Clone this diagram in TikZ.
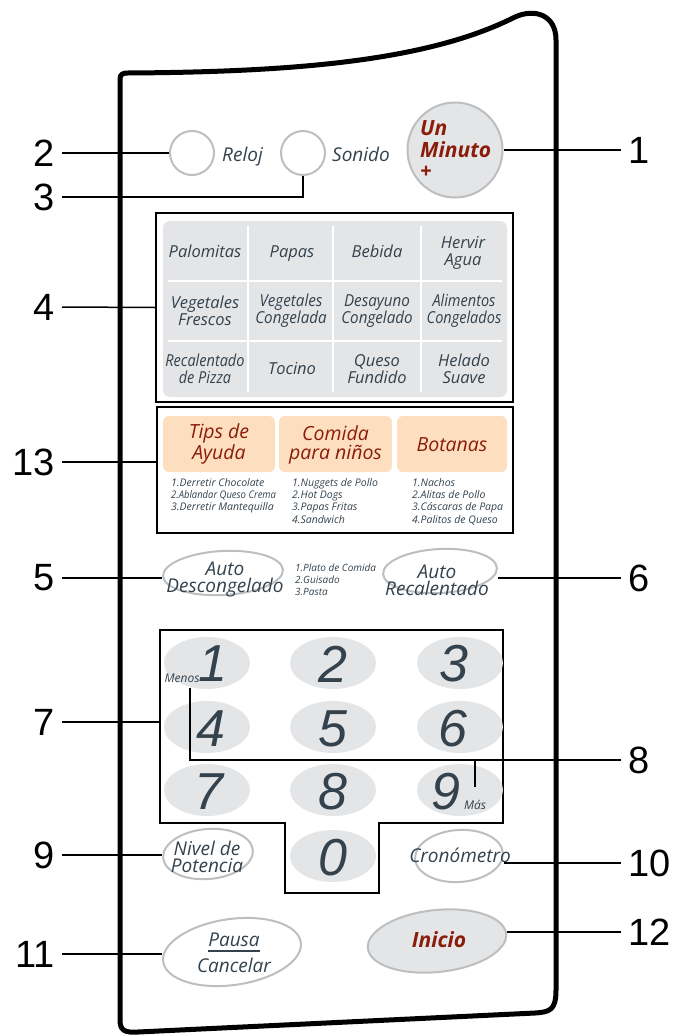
\documentclass[tikz,border=0pt]{standalone}
\usepackage{fontspec}
\setmainfont{Open Sans}
\newfontfamily\digitfont{Liberation Sans}
\usepackage{tikz}
\usetikzlibrary{shapes.geometric}
\definecolor{ink}{HTML}{33424D}
\definecolor{keygray}{HTML}{E4E5E7}
\definecolor{rimgray}{HTML}{BDBEC0}
\definecolor{darkred}{HTML}{8A1C0A}
\definecolor{peach}{HTML}{FDDEBF}
\tikzset{callout/.style = {font=\digitfont\fontsize{38}{38}\selectfont,
                           inner sep=0pt, outer xsep=7pt}}
\tikzset{leader/.style = {line width=1.5pt}}
\tikzset{frame/.style = {draw, line width=1.6pt, inner sep=0pt}}
\tikzset{rim/.style = {draw=rimgray, line width=2pt, inner sep=0pt}}
\tikzset{key/.style = {ellipse, fill=keygray, minimum width=86pt,
                       minimum height=52pt, inner sep=0pt}}
\tikzset{digit/.style = {text=ink, font=\digitfont\itshape\fontsize{52}{52}\selectfont,
                         inner sep=0pt}}
\tikzset{legend/.style = {text=ink, font=\itshape\fontsize{16.5}{17}\selectfont,
                          align=center, inner sep=0pt}}
\tikzset{btntext/.style = {text=ink, font=\itshape\fontsize{19}{17}\selectfont,
                           align=center, inner sep=0pt}}
\tikzset{small/.style = {text=ink, font=\itshape\fontsize{10.5}{12.3}\selectfont,
                         align=left, inner sep=0pt, anchor=north west}}
\tikzset{tiny/.style = {text=ink, font=\itshape\fontsize{12}{12}\selectfont,
                        inner sep=0pt}}
\tikzset{header/.style = {text=darkred, font=\itshape\fontsize{19.5}{19}\selectfont,
                          align=center, inner sep=0pt}}
\tikzset{redbold/.style = {text=darkred, font=\bfseries\itshape\fontsize{21}{21.5}\selectfont,
                           align=left, inner sep=0pt}}

\begin{document}
\begin{tikzpicture}[x=1pt, y=-1pt]
    \useasboundingbox (0, 0) rectangle (678, 1036);
    \draw [line width=5pt, line join=round] (120, 1020) -- (120, 79)
        .. controls (120, 74) and (123, 73) .. (128, 73)
        .. controls (300, 72) and (430, 60) .. (515, 17)
        .. controls (535, 8) and (556, 15) .. (556, 40) -- (556, 990)
        .. controls (556, 1010) and (550, 1012) .. (535, 1013) -- (138, 1032)
        .. controls (124, 1033) and (120, 1030) .. (120, 1020) -- cycle;

    \node [circle, rim, minimum size=44pt] (reloj) at (192, 153) {};
    \node [btntext, anchor=base west] (relojtxt) at (222, 161) {Reloj};
    \node [circle, rim, minimum size=44pt] (sonido) at (303, 153) {};
    \node [btntext, anchor=base west] (sonidotxt) at (332, 161) {Sonido};
    \node [circle, rim, fill=keygray, minimum size=95pt] (unminuto) at (455, 150) {};
    \node [redbold, anchor=west] (unminutotxt) at (420, 150) {Un\\Minuto\\+};

    \node [frame, minimum width=357pt, minimum height=189pt] (box4) at (334.5, 307.5) {};
    \fill [keygray, rounded corners=7pt] (163, 221) rectangle (507, 397);
    \draw [white, line width=2.5pt] (248, 226) -- (248, 392);
    \draw [white, line width=2.5pt] (333, 226) -- (333, 392);
    \draw [white, line width=2.5pt] (421, 226) -- (421, 392);
    \draw [white, line width=2.5pt] (168, 281) -- (502, 281);
    \draw [white, line width=2.5pt] (168, 341) -- (502, 341);
    \node [legend, anchor=base] (palomitas) at (205, 257) {Palomitas};
    \node [legend, anchor=base] (papas) at (292, 257) {Papas};
    \node [legend, anchor=base] (bebida) at (377, 257) {Bebida};
    \node [legend] (hervir) at (463, 253) {Hervir\\Agua};
    \node [legend] (vegfrescos) at (205, 311) {Vegetales\\Frescos};
    \node [legend, xscale=0.92] (vegcongelada) at (291, 311) {Vegetales\\Congelada};
    \node [legend, xscale=0.92] (desayuno) at (377, 311) {Desayuno\\Congelado};
    \node [legend, xscale=0.88] (alimentos) at (464, 311) {Alimentos\\Congelados};
    \node [legend, xscale=0.88] (recalentado) at (205, 369) {Recalentado\\de Pizza};
    \node [legend, anchor=base] (tocino) at (292, 374) {Tocino};
    \node [legend] (queso) at (377, 369) {Queso\\Fundido};
    \node [legend] (helado) at (464, 369) {Helado\\Suave};

    \node [frame, minimum width=356pt, minimum height=126pt] (box13) at (335, 470) {};
    \fill [peach, rounded corners=6pt] (163, 416) rectangle (275, 472);
    \fill [peach, rounded corners=6pt] (279, 416) rectangle (392, 472);
    \fill [peach, rounded corners=6pt] (397, 416) rectangle (507, 472);
    \node [header] (tips) at (219, 444) {Tips de\\Ayuda};
    \node [header] (comida) at (335.5, 445) {Comida\\para niños};
    \node [header] (botanas) at (452, 445) {Botanas};
    \node [small] (tipslist) at (171, 478) {1.Derretir Chocolate\\{\addfontfeature{FakeStretch=0.9}2.Ablandar Queso Crema}\\3.Derretir Mantequilla};
    \node [small] (comidalist) at (292, 478) {1.Nuggets de Pollo\\2.Hot Dogs\\3.Papas Fritas\\4.Sandwich};
    \node [small] (botanaslist) at (412, 478) {1.Nachos\\2.Alitas de Pollo\\3.Cáscaras de Papa\\4.Palitos de Queso};

    \node [ellipse, rim, minimum width=120pt, minimum height=44pt, rotate=3] (autodesc) at (223, 573) {};
    \node [btntext] (autodesctxt) at (225, 579) {Auto\\Descongelado};
    \node [small, font=\itshape\fontsize{10}{12}\selectfont] (autolist) at (295, 564) {1.Plato de Comida\\2.Guisado\\3.Pasta};
    \node [ellipse, rim, minimum width=114pt, minimum height=44pt, rotate=3] (autorec) at (440, 571) {};
    \node [btntext] (autorectxt) at (437, 580) {Auto\\Recalentado};

    \draw [line width=1.6pt] (160, 630) -- (503, 630) -- (503, 823) -- (379, 823) -- (379, 893)
        -- (285, 893) -- (285, 823) -- (160, 823) -- cycle;
    \coordinate (padwest) at (160, 722);
    \node [key] (k1) at (207, 663) {};
    \node [key] (k2) at (333, 663) {};
    \node [key] (k3) at (460, 663) {};
    \node [key] (k4) at (207, 727) {};
    \node [key] (k5) at (333, 727) {};
    \node [key] (k6) at (460, 727) {};
    \node [key] (k7) at (207, 790) {};
    \node [key] (k8) at (333, 790) {};
    \node [key] (k9) at (460, 790) {};
    \node [key] (k0) at (333, 856) {};
    \node [digit] (d1) at (213, 664) {1};
    \node [digit] (d2) at (333, 664) {2};
    \node [digit] (d3) at (454, 664) {3};
    \node [digit] (d4) at (211, 729) {4};
    \node [digit] (d5) at (333, 729) {5};
    \node [digit] (d6) at (453, 729) {6};
    \node [digit] (d7) at (209, 792) {7};
    \node [digit] (d8) at (333, 792) {8};
    \node [digit] (d9) at (446, 792) {9};
    \node [digit] (d0) at (333, 858) {0};
    \node [tiny] (menos) at (182, 678) {Menos};
    \node [tiny] (mas) at (475, 805) {Más};
    \coordinate (menostick) at (190, 688);
    \coordinate (mastick) at (475, 787);

    \node [ellipse, rim, minimum width=90pt, minimum height=50pt, rotate=5] (nivel) at (208, 854) {};
    \node [btntext] (niveltxt) at (207, 857) {Nivel de\\Potencia};
    \node [ellipse, rim, minimum width=88pt, minimum height=52pt, rotate=4] (crono) at (459, 856) {};
    \node [btntext] (cronotxt) at (460, 855) {Cronómetro};

    \node [ellipse, rim, minimum width=139pt, minimum height=66pt, rotate=8] (pausa) at (232, 952) {};
    \node [btntext] (pausatxt) at (234, 940) {Pausa};
    \node [btntext] (cancelartxt) at (234, 965) {Cancelar};
    \draw [ink, line width=1.3pt] ([yshift=-4pt]pausatxt.south west) -- ([yshift=-4pt]pausatxt.south east);
    \node [ellipse, rim, fill=keygray, minimum width=139pt, minimum height=62pt, rotate=6] (inicio) at (437, 941) {};
    \node [redbold] (iniciotxt) at (439, 940) {Inicio};

    \node [callout, anchor=west] (l1) at (621, 150) {1};
    \node [callout, anchor=east] (l2) at (62, 153) {2};
    \node [callout, anchor=east] (l3) at (62, 197) {3};
    \node [callout, anchor=east] (l4) at (62, 307) {4};
    \node [callout, anchor=east] (l13) at (62, 462) {13};
    \node [callout, anchor=east] (l5) at (62, 578) {5};
    \node [callout, anchor=west] (l6) at (621, 578) {6};
    \node [callout, anchor=east] (l7) at (62, 722) {7};
    \node [callout, anchor=west] (l8) at (621, 760) {8};
    \node [callout, anchor=east] (l9) at (62, 855) {9};
    \node [callout, anchor=west] (l10) at (621, 863) {10};
    \node [callout, anchor=east] (l11) at (62, 954) {11};
    \node [callout, anchor=west] (l12) at (621, 932) {12};

    \draw [leader] (unminuto.east) -- (l1.west);
    \draw [leader] (l2.east) -- (reloj.west);
    \draw [leader] (l3.east) -| (sonido.south);
    \draw [leader] (l4.east) -- (box4.west);
    \draw [leader] (l13.east) -- (l13.east -| box13.west);
    \draw [leader] (l5.east) -- (l5.east -| autodesc.west);
    \draw [leader] (l6.west) -- (l6.west -| autorec.east);
    \draw [leader] (l7.east) -- (padwest);
    \draw [leader] (menostick) |- (l8.west);
    \draw [leader] (mastick) -- (mastick |- l8.west);
    \draw [leader] (l9.east) -- (l9.east -| nivel.west);
    \draw [leader] (l10.west) -- (l10.west -| crono.east);
    \draw [leader] (l11.east) -- (l11.east -| pausa.west);
    \draw [leader] (l12.west) -- (l12.west -| inicio.east);
  \end{tikzpicture}
\end{document}
